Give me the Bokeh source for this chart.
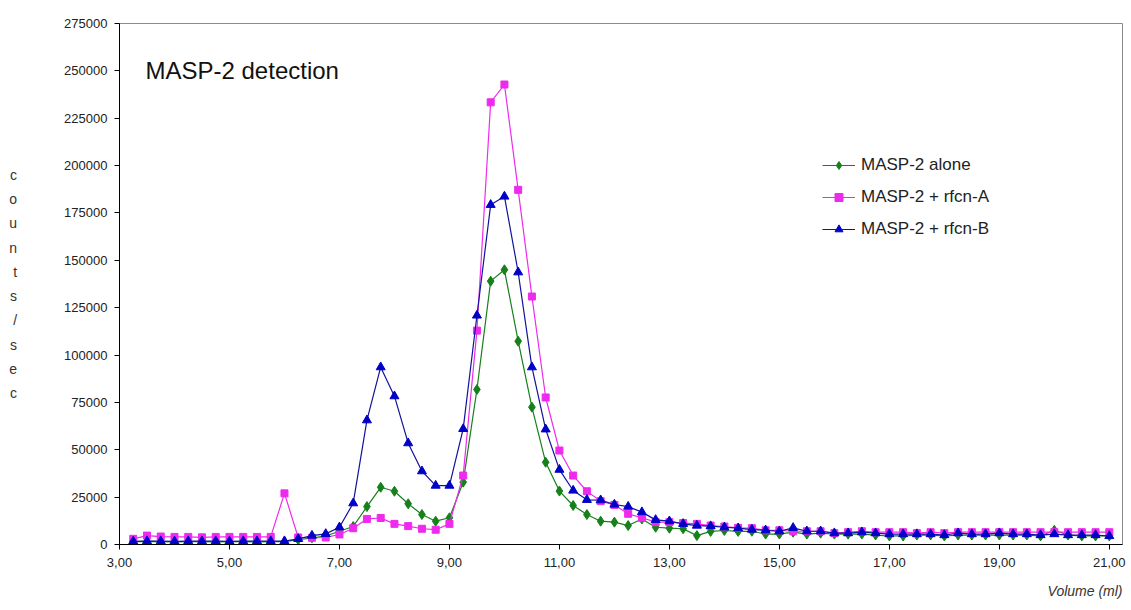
from bokeh.plotting import figure
from bokeh.models import FixedTicker, Label, Legend, LegendItem, Range1d, Title
from bokeh.embed import file_html
from bokeh.resources import INLINE

# ---------------- data ----------------
volume = [3.25, 3.5, 3.75, 4.0, 4.25, 4.5, 4.75, 5.0, 5.25, 5.5, 5.75, 6.0,
          6.25, 6.5, 6.75, 7.0, 7.25, 7.5, 7.75, 8.0, 8.25, 8.5, 8.75, 9.0,
          9.25, 9.5, 9.75, 10.0, 10.25, 10.5, 10.75, 11.0, 11.25, 11.5, 11.75, 12.0,
          12.25, 12.5, 12.75, 13.0, 13.25, 13.5, 13.75, 14.0, 14.25, 14.5, 14.75, 15.0,
          15.25, 15.5, 15.75, 16.0, 16.25, 16.5, 16.75, 17.0, 17.25, 17.5, 17.75, 18.0,
          18.25, 18.5, 18.75, 19.0, 19.25, 19.5, 19.75, 20.0, 20.25, 20.5, 20.75, 21.0]

masp2_alone = [1500, 1600, 1500, 1400, 1500, 1500, 1400, 1500, 1500, 1400, 1500, 1500,
               2500, 3500, 4500, 7000, 9500, 20000, 30200, 28100, 21500, 15800, 12300, 14100,
               32900, 81800, 139000, 145000, 107300, 72500, 43400, 28200, 20600, 15800, 12300, 11800,
               10000, 13500, 9100, 8600, 8300, 4700, 6900, 7400, 6900, 7000, 5500, 5500,
               6500, 5500, 6000, 5500, 5500, 5500, 5000, 4500, 4500, 5000, 5000, 4500,
               5000, 5000, 5000, 5000, 5000, 5000, 4500, 7500, 5000, 4500, 4500, 4500]

masp2_rfcn_a = [3000, 4700, 4200, 4000, 4000, 3800, 4000, 4000, 4000, 4000, 4000, 27000,
                3700, 3500, 3700, 5300, 8600, 13500, 14000, 10900, 9700, 8300, 7800, 10900,
                36400, 112900, 233400, 242800, 187200, 130900, 77600, 49600, 36400, 28100, 22900, 20900,
                16200, 14100, 11800, 11800, 11300, 10900, 10000, 9500, 8800, 8600, 7500, 7500,
                7000, 7000, 7000, 6000, 6500, 7000, 6500, 6500, 6500, 6000, 6500, 6000,
                6500, 6500, 6500, 6500, 6500, 6500, 6500, 6500, 6500, 6500, 6500, 6500]

masp2_rfcn_b = [1700, 1800, 1800, 1700, 1800, 1800, 1800, 1700, 1800, 1800, 1800, 1800,
                3000, 4700, 5600, 9100, 21800, 65600, 93600, 78300, 53500, 38700, 31100, 31100,
                61000, 120900, 179300, 183700, 143700, 93600, 60800, 39500, 28500, 23600, 23400, 21100,
                20000, 17100, 13000, 12300, 10900, 10000, 9700, 9100, 8600, 7900, 7500, 7000,
                8800, 7000, 7000, 6000, 6000, 6500, 6000, 5500, 5500, 5500, 5500, 5000,
                6000, 5500, 5500, 6000, 5500, 5500, 5000, 5500, 5000, 5000, 5000, 4500]

series_names = ["MASP-2 alone", "MASP-2 + rfcn-A", "MASP-2 + rfcn-B"]

x_ticks = [3, 5, 7, 9, 11, 13, 15, 17, 19, 21]
x_tick_labels = ["3,00", "5,00", "7,00", "9,00", "11,00", "13,00", "15,00", "17,00", "19,00", "21,00"]
y_ticks = [0, 25000, 50000, 75000, 100000, 125000, 150000, 175000, 200000, 225000, 250000, 275000]
y_tick_labels = ["0", "25000", "50000", "75000", "100000", "125000", "150000", "175000",
                 "200000", "225000", "250000", "275000"]

title_text = "MASP-2 detection"
y_label_text = "counts/sec"
x_label_text = "Volume (ml)"

# ---------------- figure ----------------
W, H = 1131, 610
LEFT, RIGHT, TOP, BOTTOM = 119, 9, 23, 66
p = figure(width=W, height=H, output_backend="svg", toolbar_location=None,
           x_range=Range1d(3, 21.24), y_range=Range1d(0, 275000),
           min_border_left=LEFT, min_border_right=RIGHT,
           min_border_top=TOP, min_border_bottom=BOTTOM)
p.background_fill_color = "white"
p.border_fill_color = "white"
p.outline_line_color = "#8c8c8c"
p.outline_line_width = 1
p.grid.visible = False

tick_font = "Liberation Sans"
p.xaxis.ticker = FixedTicker(ticks=x_ticks)
p.xaxis.major_label_overrides = {t: l for t, l in zip(x_ticks, x_tick_labels)}
p.yaxis.ticker = FixedTicker(ticks=y_ticks)
p.yaxis.major_label_overrides = {t: l for t, l in zip(y_ticks, y_tick_labels)}
for ax in (p.xaxis[0], p.yaxis[0]):
    ax.axis_line_color = "black"
    ax.axis_line_width = 1
    ax.major_tick_line_color = "black"
    ax.major_tick_out = 5
    ax.major_tick_in = 0
    ax.minor_tick_line_color = None
    ax.major_label_text_font = tick_font
    ax.major_label_text_font_size = "13px"
    ax.major_label_text_color = "#222222"
p.yaxis.major_label_standoff = 7
p.xaxis.major_label_standoff = 8

# vertical stacked y label (one letter per line)
p.yaxis.axis_label = "\n".join(y_label_text)
p.yaxis.axis_label_orientation = "horizontal"
p.yaxis.axis_label_text_font = "Liberation Sans"
p.yaxis.axis_label_text_font_style = "normal"
p.yaxis.axis_label_text_font_size = "14px"
p.yaxis.axis_label_text_line_height = 1.52
p.yaxis.axis_label_text_color = "#333333"
p.yaxis.axis_label_standoff = 44

# x label at the lower right
p.add_layout(Title(text=x_label_text, align="right", text_font="Liberation Sans",
                   text_font_style="italic", text_font_size="14px",
                   text_color="#333333", standoff=22), "below")

# ---------------- series ----------------
styles = [
    dict(line="#16801a", fill="#16801a", marker="diamond", size=10),
    dict(line="#ee2aee", fill="#ee2aee", marker="square", size=7),
    dict(line="#12129a", fill="#0000c8", marker="triangle", size=9),
]
items = []
for name, vals, st in zip(series_names, [masp2_alone, masp2_rfcn_a, masp2_rfcn_b], styles):
    lr = p.line(volume, vals, line_color=st["line"], line_width=1.2)
    sr = p.scatter(volume, vals, marker=st["marker"], size=st["size"],
                   fill_color=st["fill"], line_color=st["fill"])
    items.append(LegendItem(label=name, renderers=[lr, sr]))

legend = Legend(items=items, location=(703, 305), padding=0, margin=0,
                border_line_color=None, background_fill_alpha=0,
                glyph_width=33, glyph_height=20, label_height=20, spacing=12,
                label_standoff=6, label_text_font="Liberation Sans",
                label_text_font_size="17px", label_text_color="#222222")
p.add_layout(legend)

# ---------------- chart title inside the frame ----------------
px_per_x = (W - LEFT - RIGHT) / 18.24
px_per_y = (H - TOP - BOTTOM) / 275000.0

def dx(sx):
    return 3 + (sx - LEFT) / px_per_x

def dy(sy):
    return (H - BOTTOM - sy) / px_per_y

p.add_layout(Label(x=dx(145), y=dy(70), text=title_text, text_font="Liberation Sans",
                   text_font_size="24px", text_color="#111111",
                   text_align="left", text_baseline="middle"))

open("out.html", "w").write(file_html(p, INLINE))
